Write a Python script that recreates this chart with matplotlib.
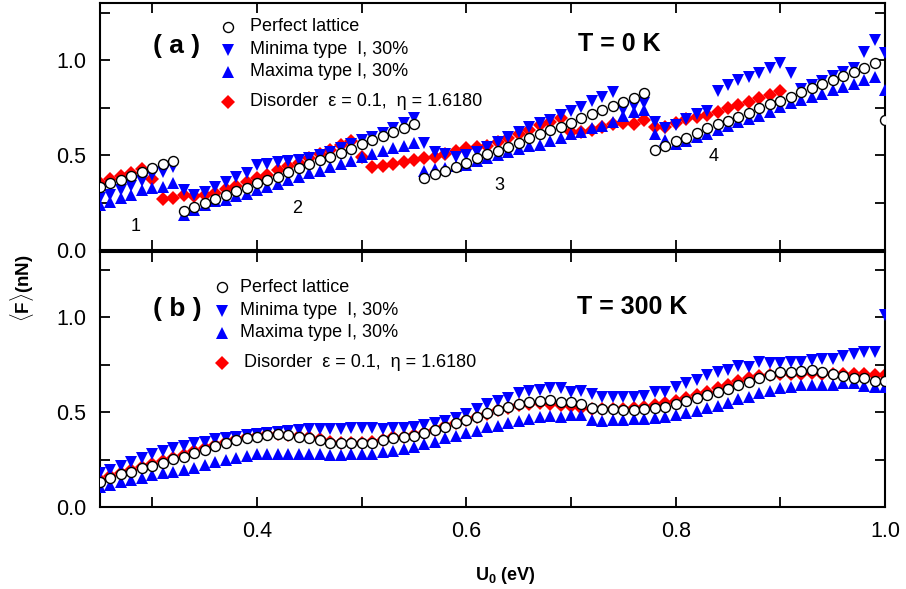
import numpy as np
import matplotlib
matplotlib.use("Agg")
import matplotlib.pyplot as plt
from matplotlib.ticker import MultipleLocator

plt.rcParams['font.family'] = ['Liberation Sans', 'DejaVu Sans']
plt.rcParams['mathtext.fontset'] = 'custom'
plt.rcParams['mathtext.rm'] = 'Liberation Sans'
plt.rcParams['mathtext.bf'] = 'Liberation Sans:bold'

# U0 grid (eV)
u0 = np.round(np.arange(25, 101) / 100, 2)

# ---------- (a) T = 0 K ----------
a_perfect = [0.330, 0.351, 0.368, 0.389, 0.409, 0.430, 0.451, 0.470,
             0.205, 0.225, 0.249, 0.267, 0.289, 0.311, 0.328, 0.351, 0.368, 0.386, 0.409, 0.433,
             0.455, 0.472, 0.491, 0.513, 0.534, 0.556, 0.577, 0.599, 0.621, 0.640, 0.661,
             0.377, 0.398, 0.417, 0.438, 0.460, 0.483, 0.505, 0.523, 0.544, 0.565, 0.588,
             0.609, 0.632, 0.649, 0.670, 0.693, 0.716, 0.737, 0.758, 0.780, 0.799, 0.825,
             0.528, 0.550, 0.574, 0.592, 0.617, 0.640, 0.663, 0.680, 0.700, 0.723, 0.746,
             0.767, 0.786, 0.807, 0.830, 0.851, 0.872, 0.895, 0.916, 0.939, 0.956, 0.982, 0.684]
a_minima = [0.272, 0.289, 0.316, 0.337, 0.365, 0.395, 0.412, 0.435,
            0.316, 0.289, 0.307, 0.333, 0.356, 0.386, 0.404, 0.447, 0.455, 0.462, 0.468, 0.475,
            0.485, 0.498, 0.515, 0.535, 0.556, 0.578, 0.597, 0.618, 0.640, 0.667, 0.697,
            0.561, 0.518, 0.504, 0.491, 0.500, 0.518, 0.544, 0.570, 0.596, 0.623, 0.649,
            0.667, 0.685, 0.711, 0.731, 0.755, 0.784, 0.806, 0.831, 0.738, 0.759, 0.774,
            0.675, 0.640, 0.658, 0.688, 0.717, 0.729, 0.835, 0.868, 0.897, 0.910, 0.933,
            0.956, 0.982, 0.930, 0.850, 0.870, 0.890, 0.915, 0.935, 0.958, 1.044, 1.105, 1.035]
a_maxima = [0.237, 0.254, 0.272, 0.289, 0.316, 0.325, 0.333, 0.351,
            0.185, 0.210, 0.237, 0.258, 0.265, 0.283, 0.297, 0.318, 0.333, 0.350, 0.366, 0.385,
            0.403, 0.418, 0.436, 0.455, 0.470, 0.490, 0.505, 0.520, 0.535, 0.550, 0.565,
            0.414, 0.425, 0.430, 0.440, 0.450, 0.468, 0.484, 0.500, 0.515, 0.532, 0.545,
            0.555, 0.572, 0.590, 0.610, 0.622, 0.640, 0.652, 0.673, 0.705, 0.725, 0.735,
            0.613, 0.578, 0.556, 0.574, 0.595, 0.613, 0.631, 0.652, 0.675, 0.690, 0.705,
            0.728, 0.751, 0.772, 0.790, 0.807, 0.821, 0.842, 0.860, 0.874, 0.895, 0.912, 0.842]
a_disorder = [0.354, 0.372, 0.389, 0.407, 0.425, 0.372, 0.267, 0.275,
              0.289, 0.284, 0.290, 0.298, 0.319, 0.337, 0.360, 0.377, 0.395, 0.421, 0.442, 0.460,
              0.482, 0.505, 0.526, 0.552, 0.573, 0.491, 0.438, 0.444, 0.451, 0.461, 0.474,
              0.482, 0.491, 0.504, 0.521, 0.535, 0.540, 0.550, 0.570, 0.587, 0.613, 0.631,
              0.658, 0.675, 0.694, 0.622, 0.622, 0.631, 0.649, 0.663, 0.667, 0.663, 0.684,
              0.649, 0.649, 0.667, 0.688, 0.702, 0.711, 0.724, 0.745, 0.763, 0.780, 0.798,
              0.816, 0.838, np.nan, np.nan, np.nan, np.nan, np.nan, np.nan, np.nan, np.nan, np.nan, np.nan]

# ---------- (b) T = 300 K ----------
b_perfect = [0.135, 0.156, 0.174, 0.188, 0.205, 0.219, 0.235, 0.253, 0.267, 0.285,
             0.302, 0.323, 0.337, 0.355, 0.364, 0.372, 0.381, 0.386, 0.381, 0.372,
             0.367, 0.355, 0.341, 0.337, 0.337, 0.337, 0.341, 0.355, 0.366, 0.369,
             0.376, 0.390, 0.407, 0.425, 0.443, 0.460, 0.474, 0.495, 0.513, 0.530,
             0.543, 0.557, 0.562, 0.566, 0.557, 0.557, 0.545, 0.525, 0.518, 0.518,
             0.513, 0.513, 0.518, 0.522, 0.530, 0.545, 0.558, 0.578, 0.592, 0.606,
             0.624, 0.645, 0.662, 0.683, 0.697, 0.712, 0.715, 0.719, 0.724, 0.712,
             0.701, 0.694, 0.683, 0.680, 0.666, 0.666]
b_minima = [0.179, 0.197, 0.219, 0.240, 0.258, 0.279, 0.297, 0.314, 0.325, 0.337,
            0.346, 0.358, 0.364, 0.372, 0.380, 0.386, 0.390, 0.395, 0.400, 0.405,
            0.410, 0.412, 0.412, 0.415, 0.418, 0.418, 0.418, 0.415, 0.416, 0.418,
            0.425, 0.434, 0.446, 0.457, 0.472, 0.490, 0.518, 0.543, 0.560, 0.578,
            0.601, 0.613, 0.618, 0.627, 0.631, 0.606, 0.613, 0.596, 0.583, 0.583,
            0.583, 0.583, 0.588, 0.610, 0.610, 0.636, 0.654, 0.671, 0.697, 0.712,
            0.724, 0.746, 0.741, 0.764, 0.759, 0.759, 0.764, 0.764, 0.776, 0.782,
            0.782, 0.799, 0.806, 0.817, 0.820, 1.014]
b_maxima = [0.109, 0.118, 0.132, 0.144, 0.156, 0.170, 0.179, 0.188, 0.197, 0.209,
            0.223, 0.237, 0.249, 0.261, 0.272, 0.279, 0.281, 0.283, 0.283, 0.283,
            0.283, 0.283, 0.276, 0.276, 0.279, 0.279, 0.279, 0.293, 0.298, 0.306,
            0.316, 0.334, 0.346, 0.364, 0.376, 0.393, 0.404, 0.422, 0.429, 0.443,
            0.455, 0.464, 0.474, 0.483, 0.478, 0.487, 0.487, 0.460, 0.457, 0.460,
            0.460, 0.464, 0.464, 0.469, 0.478, 0.487, 0.495, 0.508, 0.522, 0.536,
            0.548, 0.571, 0.583, 0.601, 0.613, 0.627, 0.636, 0.645, 0.645, 0.645,
            0.645, 0.654, 0.654, 0.641, 0.636, 0.636]
b_disorder = [0.145, 0.165, 0.183, 0.198, 0.214, 0.229, 0.245, 0.262, 0.277, 0.294,
              0.311, 0.330, 0.345, 0.360, 0.370, 0.378, 0.385, 0.388, 0.383, 0.375,
              0.368, 0.358, 0.346, 0.341, 0.340, 0.340, 0.345, 0.357, 0.368, 0.372,
              0.380, 0.392, 0.408, 0.426, 0.443, 0.460, 0.475, 0.493, 0.510, 0.525,
              0.537, 0.545, 0.548, 0.545, 0.540, 0.532, 0.525, 0.520, 0.518, 0.518,
              0.520, 0.522, 0.528, 0.537, 0.548, 0.562, 0.578, 0.592, 0.608, 0.626,
              0.645, 0.664, 0.680, 0.690, 0.698, 0.702, 0.703, 0.704, 0.705, 0.703,
              0.700, 0.700, 0.700, 0.700, 0.697, 0.697]

labels = ["Perfect lattice", "Minima type  I, 30%", "Maxima type I, 30%",
          "Disorder  \u03b5 = 0.1,  \u03b7 = 1.6180"]
branch_labels = ["1", "2", "3", "4"]
branch_x = [0.284, 0.438, 0.632, 0.836]
branch_y = [0.126, 0.221, 0.337, 0.490]

BLUE = '#0000ff'
RED = '#ff0000'
MS_O, MS_T, MS_D = 7.2, 8.6, 6.8

fig = plt.figure(figsize=(9.06, 5.89), dpi=100)
W, H = 906, 589
axA = fig.add_axes([100 / W, 1 - 250 / H, 785 / W, 247 / H])
axB = fig.add_axes([100 / W, 1 - 507.3 / H, 785 / W, 255.3 / H])


def draw(ax, perf, mn, mx, dis):
    ax.plot(u0, dis, ls='none', marker='D', ms=MS_D, mfc=RED, mec=RED, mew=0, zorder=2)
    ax.plot(u0, mn, ls='none', marker='v', ms=MS_T, mfc=BLUE, mec=BLUE, mew=0, zorder=3)
    ax.plot(u0, mx, ls='none', marker='^', ms=MS_T, mfc=BLUE, mec=BLUE, mew=0, zorder=3)
    ax.plot(u0, perf, ls='none', marker='o', ms=MS_O, mfc='white', mec='black', mew=1.0, zorder=4)


draw(axA, a_perfect, a_minima, a_maxima, a_disorder)
draw(axB, b_perfect, b_minima, b_maxima, b_disorder)

for ax, top in ((axA, 1.3), (axB, 1.345)):
    ax.set_xlim(0.25, 1.0)
    ax.set_ylim(0.0, top)
    ax.xaxis.set_major_locator(MultipleLocator(0.2))
    ax.xaxis.set_minor_locator(MultipleLocator(0.1))
    ax.yaxis.set_major_locator(MultipleLocator(0.5))
    ax.yaxis.set_minor_locator(MultipleLocator(0.25))
    ax.tick_params(which='both', direction='in', top=True, right=True,
                   length=7, width=1.3, labelsize=15.5)
    ax.tick_params(axis='y', pad=10)
    ax.tick_params(axis='x', pad=10)
    for s in ax.spines.values():
        s.set_linewidth(1.5)

axA.tick_params(axis='x', labelbottom=False)

# legends (drawn in axes fraction)
def legend(ax, rows, mx, tx, txd):
    styles = [dict(marker='o', ms=MS_O, mfc='white', mec='black', mew=1.0),
              dict(marker='v', ms=MS_T, mfc=BLUE, mec=BLUE, mew=0),
              dict(marker='^', ms=MS_T, mfc=BLUE, mec=BLUE, mew=0),
              dict(marker='D', ms=MS_D, mfc=RED, mec=RED, mew=0)]
    for i, (ry, st) in enumerate(zip(rows, styles)):
        ax.plot([mx], [ry], ls='none', transform=ax.transAxes, clip_on=False, **st)
        ax.text(txd if i == 3 else tx, ry, labels[i], transform=ax.transAxes,
                fontsize=13, va='center', ha='left')

legend(axA, [0.904, 0.810, 0.722, 0.600], 0.163, 0.191, 0.191)
legend(axB, [0.861, 0.769, 0.684, 0.566], 0.155, 0.178, 0.184)

axA.text(0.097, 0.825, "( a )", transform=axA.transAxes, fontsize=19, fontweight='bold',
         ha='center', va='center')
axA.text(0.661, 0.834, "T = 0 K", transform=axA.transAxes, fontsize=18, fontweight='bold',
         ha='center', va='center')
axB.text(0.098, 0.775, "( b )", transform=axB.transAxes, fontsize=19, fontweight='bold',
         ha='center', va='center')
axB.text(0.678, 0.785, "T = 300 K", transform=axB.transAxes, fontsize=18, fontweight='bold',
         ha='center', va='center')

for lab, bx, by in zip(branch_labels, branch_x, branch_y):
    axA.text(bx, by, lab, fontsize=13, ha='center', va='center')

fig.text(22 / W, 1 - 288 / H, r"$\langle$F$\rangle$(nN)", rotation=90, fontsize=13.5,
         fontweight='bold', ha='center', va='center')
fig.text(505 / W, 1 - 575 / H, r"U$_\mathbf{0}$ (eV)", fontsize=13, fontweight='bold',
         ha='center', va='center')

fig.savefig("out.png", dpi=100)
